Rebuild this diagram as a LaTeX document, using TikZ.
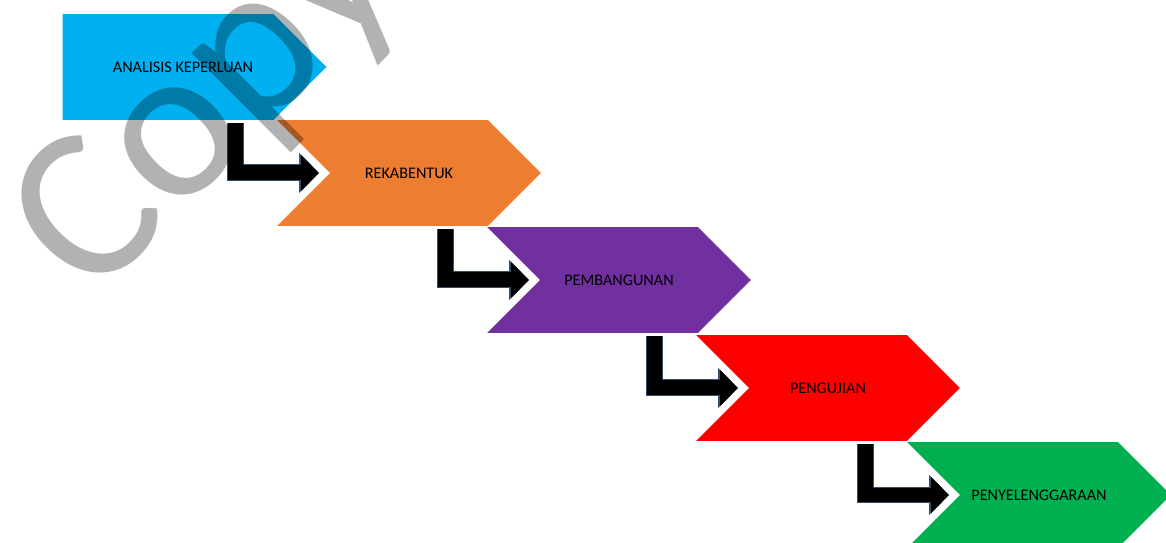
\documentclass[tikz,border=0pt]{standalone}
\usepackage{fontspec}
\setmainfont{Carlito}
\usetikzlibrary{arrows.meta,positioning,calc,shapes.symbols}

\definecolor{analisis}{HTML}{00B0F0}
\definecolor{rekabentuk}{HTML}{ED7D31}
\definecolor{pembangunan}{HTML}{7030A0}
\definecolor{pengujian}{HTML}{FF0000}
\definecolor{penyelenggaraan}{HTML}{00B050}
\definecolor{arrowedge}{HTML}{2F4F6F}

\begin{document}
\begin{tikzpicture}[x=0.02cm,y=-0.02cm,>=Latex]
  \tikzstyle{phase}=[signal,signal to=east,signal pointer angle=90,minimum width=5.28cm,minimum height=2.12cm,inner sep=0pt,font=\fontsize{9.2}{11}\selectfont,text=black]
  \tikzstyle{chevron}=[phase,signal from=west]
  \tikzstyle{flow}=[line width=0.3cm,line join=miter,-{Triangle[length=0.36cm,width=0.7cm]},preaction={draw=arrowedge,line width=0.34cm,-{Triangle[length=0.4cm,width=0.78cm]}}]
  \tikzstyle{watermark}=[text=black,text opacity=0.3,font=\fontsize{125}{125}\selectfont,inner sep=0pt]

  \useasboundingbox (0,0) rectangle (1166,543);
  \clip (0,0) rectangle (1166,543);

  % Phases, stepping down to the right
  \node[phase,fill=analisis] (analisis) at (168,67) {\hspace*{0.6cm}ANALISIS KEPERLUAN};
  \node[chevron,fill=rekabentuk] (rekabentuk) at (409,173) {REKABENTUK};
  \node[chevron,fill=pembangunan] (pembangunan) at (619,280) {PEMBANGUNAN};
  \node[chevron,fill=pengujian] (pengujian) at (828,388) {PENGUJIAN};
  \node[chevron,fill=penyelenggaraan] (penyelenggaraan) at (1039,495) {PENYELENGGARAAN};

  % Bent arrows between phases
  \draw[flow] ($(analisis.south -| rekabentuk.south)+(-174,3)$) |- ($(rekabentuk.center)+(-90,0)$);
  \draw[flow] ($(rekabentuk.south -| pembangunan.south)+(-174,3)$) |- ($(pembangunan.center)+(-90,0)$);
  \draw[flow] ($(pembangunan.south -| pengujian.south)+(-174,3)$) |- ($(pengujian.center)+(-90,0)$);
  \draw[flow] ($(pengujian.south -| penyelenggaraan.south)+(-174,3)$) |- ($(penyelenggaraan.center)+(-90,0)$);

  % Watermark
  \node[watermark,rotate=45,anchor=base west] (copy) at (91,303) {Copy};
\end{tikzpicture}
\end{document}
